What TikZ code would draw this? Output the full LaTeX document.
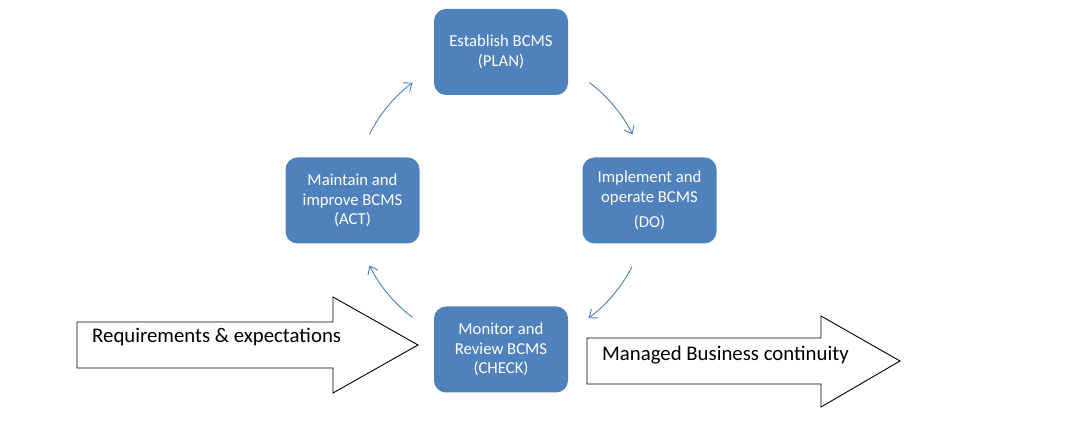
\documentclass[tikz,border=0pt]{standalone}
\usepackage{fontspec}
\setmainfont{Carlito}
\usetikzlibrary{arrows.meta}
\definecolor{boxblue}{HTML}{4F81BD}
\definecolor{arcblue}{HTML}{4A7EBB}
\begin{document}
\begin{tikzpicture}[x=1pt,y=1pt,
  phase/.style={draw=none, fill=boxblue, rounded corners=12pt, minimum width=134pt, minimum height=86pt, text=white, align=center, font=\fontsize{16.7}{19.5}\selectfont, inner sep=0pt},
  cyc/.style={draw=arcblue, line width=0.9pt, -{Straight Barb[length=7pt,width=11pt]}},
  bigarrow/.style={draw=black, line width=0.9pt, fill=white, line join=miter},
  bigtext/.style={anchor=west, font=\fontsize{20.8}{24}\selectfont, inner sep=0pt}]
\useasboundingbox (0,0) rectangle (1086,438);
\fill[white] (0,0) rectangle (1086,438);
% big arrows
\draw[bigarrow] (77,438-322) -- (333,438-322) -- (333,438-297) -- (418,438-345) -- (333,438-393) -- (333,438-368) -- (77,438-368) -- cycle;
\draw[bigarrow] (587,438-338) -- (821,438-338) -- (821,438-316) -- (900,438-361) -- (821,438-407) -- (821,438-384) -- (587,438-384) -- cycle;
\node[bigtext] (req) at (92,438-337) {Requirements \& expectations};
\node[bigtext] (mbc) at (602,438-355) {Managed Business continuity};
% phases
\node[phase] (plan) at (501,438-52) {Establish BCMS\\(PLAN)};
\node[phase] (do) at (649.5,438-200.5) {Implement and\\operate BCMS\\[6pt](DO)};
\node[phase] (check) at (501,438-349.5) {Monitor and\\Review BCMS\\(CHECK)};
\node[phase] (act) at (352.5,438-200.5) {Maintain and\\improve BCMS\\(ACT)};
% cycle arcs
\coordinate (ctr) at (501,438-200);
\coordinate (a1) at ([shift={(501,238)}]153.5:147);
\coordinate (a2) at ([shift={(501,238)}]53:147);
\coordinate (a3) at ([shift={(501,238)}]-27:147);
\coordinate (a4) at ([shift={(501,238)}]-127:147);
\draw[cyc] (a1) arc[start angle=153.5, end angle=127, radius=147];
\draw[cyc] (a2) arc[start angle=53, end angle=26.5, radius=147];
\draw[cyc] (a3) arc[start angle=-27, end angle=-53.5, radius=147];
\draw[cyc] (a4) arc[start angle=-127, end angle=-153.5, radius=147];
\end{tikzpicture}
\end{document}
